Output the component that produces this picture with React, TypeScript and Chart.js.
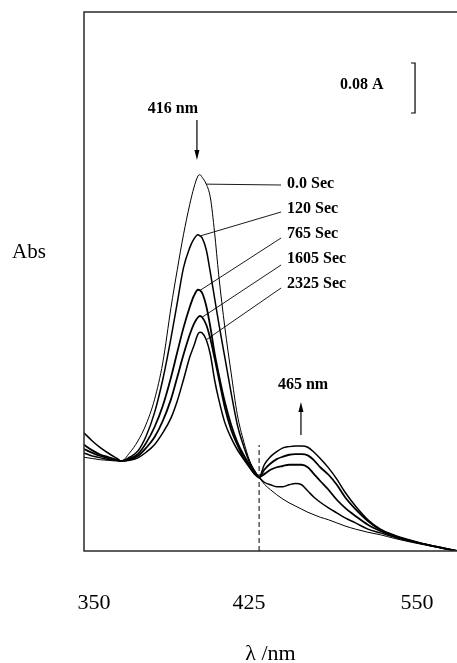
import React, { useEffect, useRef } from "react";
import { Chart, registerables } from "chart.js";

Chart.register(...registerables);

// ---- data (wavelength in nm, absorbance in A) ----
const wavelengths = [360, 364, 368, 372, 376, 378, 382, 386, 390, 394, 398, 402, 405, 408, 411, 413, 415, 416, 417, 419, 421, 423, 425, 428, 431, 434, 437, 440, 442, 444.5, 447, 450, 453, 456, 459, 462, 465, 468, 471, 474, 478, 482, 486, 491, 497, 503, 510, 518, 527, 540];

const abs0s = [0.150, 0.148, 0.146, 0.145, 0.144, 0.144, 0.157, 0.176, 0.203, 0.242, 0.301, 0.390, 0.450, 0.506, 0.554, 0.581, 0.600, 0.602, 0.598, 0.587, 0.565, 0.510, 0.442, 0.357, 0.285, 0.218, 0.176, 0.144, 0.131, 0.118, 0.107, 0.098, 0.090, 0.083, 0.077, 0.072, 0.067, 0.062, 0.058, 0.054, 0.050, 0.045, 0.040, 0.035, 0.030, 0.026, 0.020, 0.014, 0.008, 0.000];
const abs120s = [0.157, 0.152, 0.149, 0.146, 0.145, 0.144, 0.150, 0.160, 0.184, 0.221, 0.274, 0.341, 0.397, 0.453, 0.485, 0.499, 0.506, 0.504, 0.501, 0.482, 0.445, 0.405, 0.365, 0.309, 0.253, 0.202, 0.168, 0.141, 0.129, 0.118, 0.110, 0.106, 0.103, 0.103, 0.106, 0.108, 0.106, 0.096, 0.086, 0.078, 0.069, 0.061, 0.053, 0.045, 0.035, 0.029, 0.022, 0.015, 0.009, 0.000];
const abs765s = [0.163, 0.157, 0.152, 0.148, 0.145, 0.144, 0.148, 0.155, 0.173, 0.198, 0.232, 0.278, 0.318, 0.357, 0.390, 0.408, 0.418, 0.417, 0.413, 0.392, 0.358, 0.317, 0.283, 0.238, 0.202, 0.174, 0.154, 0.137, 0.126, 0.118, 0.123, 0.130, 0.134, 0.136, 0.138, 0.138, 0.138, 0.134, 0.123, 0.112, 0.098, 0.082, 0.069, 0.056, 0.042, 0.032, 0.023, 0.016, 0.009, 0.000];
const abs1605s = [0.170, 0.161, 0.154, 0.150, 0.146, 0.144, 0.146, 0.152, 0.165, 0.182, 0.208, 0.243, 0.278, 0.314, 0.346, 0.363, 0.374, 0.376, 0.374, 0.362, 0.339, 0.309, 0.277, 0.229, 0.194, 0.170, 0.149, 0.134, 0.125, 0.118, 0.130, 0.140, 0.147, 0.151, 0.154, 0.155, 0.155, 0.153, 0.145, 0.134, 0.122, 0.106, 0.086, 0.067, 0.048, 0.034, 0.024, 0.016, 0.009, 0.000];
const abs2325s = [0.189, 0.176, 0.165, 0.156, 0.148, 0.144, 0.145, 0.149, 0.158, 0.170, 0.189, 0.213, 0.240, 0.274, 0.310, 0.328, 0.347, 0.350, 0.349, 0.338, 0.314, 0.274, 0.243, 0.205, 0.181, 0.162, 0.147, 0.133, 0.124, 0.118, 0.138, 0.151, 0.159, 0.165, 0.167, 0.168, 0.168, 0.166, 0.158, 0.148, 0.133, 0.115, 0.094, 0.072, 0.050, 0.035, 0.025, 0.017, 0.009, 0.000];

const seriesLabels = ["0.0 Sec", "120 Sec", "765 Sec", "1605 Sec", "2325 Sec"];
const seriesValues = [abs0s, abs120s, abs765s, abs1605s, abs2325s];

const tickValues = [364.8, 439.6, 520.7];
const tickLabels = ["350", "425", "550"];

// ---- styles / annotation anchors (data units) ----
const SERIF = '"Liberation Serif", "Times New Roman", serif';
const seriesWidths = [1, 1.5, 1.8, 1.8, 1.5];
const X_MIN = 360;
const X_MAX = 540;
const Y_MAX = 0.8624;

const labelNm = 458.0;
const labelBaselineA = [0.5808, 0.5408, 0.5008, 0.4608, 0.4208];
const leaderFromNm = 455.1;
const leaderFromA = [0.5856, 0.5424, 0.5008, 0.4576, 0.4208];
const leaderToNm = [419, 416, 416, 417, 419];

const isosbesticNm = 444.5;
const dashTopA = 0.1696;

const soretArrow = { nm: 414.5, fromA: 0.6896, toA: 0.6256 };
const soretText = { nm: 415.0, a: 0.7016, text: "416 nm" };
const bandArrow = { nm: 464.7, fromA: 0.1856, toA: 0.2384 };
const bandText = { nm: 453.6, a: 0.2587, text: "465 nm" };
const scaleText = { nm: 483.55, a: 0.7392, text: "0.08 A" };
const scaleBar = { nm: 519.75, topA: 0.7808, span: 0.08 };
const absLabel = { nm: 325.3, a: 0.4683, text: "Abs" };

function drawArrow(ctx: CanvasRenderingContext2D, x: number, yFrom: number, yTo: number) {
  const dir = yTo > yFrom ? 1 : -1;
  ctx.beginPath();
  ctx.moveTo(x, yFrom);
  ctx.lineTo(x, yTo - dir * 6);
  ctx.stroke();
  ctx.beginPath();
  ctx.moveTo(x, yTo);
  ctx.lineTo(x - 2.5, yTo - dir * 10);
  ctx.lineTo(x + 2.5, yTo - dir * 10);
  ctx.closePath();
  ctx.fill();
}

const annotationPlugin = {
  id: "spectraAnnotations",
  afterDatasetsDraw(chart: any) {
    const { ctx, chartArea: ca } = chart;
    const xs = chart.scales.x;
    const ys = chart.scales.y;
    const px = (v: number) => xs.getPixelForValue(v);
    const py = (v: number) => ys.getPixelForValue(v);
    ctx.save();

    // frame (top, left, bottom)
    ctx.strokeStyle = "#2a2a2a";
    ctx.lineWidth = 1.5;
    ctx.beginPath();
    ctx.moveTo(ca.right, ca.top);
    ctx.lineTo(ca.left, ca.top);
    ctx.lineTo(ca.left, ca.bottom);
    ctx.lineTo(ca.right, ca.bottom);
    ctx.stroke();

    // dashed isosbestic marker
    ctx.strokeStyle = "#000";
    ctx.lineWidth = 1;
    ctx.setLineDash([5, 3]);
    ctx.beginPath();
    ctx.moveTo(px(isosbesticNm), py(0));
    ctx.lineTo(px(isosbesticNm), py(dashTopA));
    ctx.stroke();
    ctx.setLineDash([]);

    // leader lines
    ctx.lineWidth = 0.9;
    seriesLabels.forEach((_, i) => {
      const j = wavelengths.indexOf(leaderToNm[i]);
      const pt = chart.getDatasetMeta(i).data[j];
      ctx.beginPath();
      ctx.moveTo(px(leaderFromNm), py(leaderFromA[i]));
      ctx.lineTo(pt.x, pt.y);
      ctx.stroke();
    });

    // series labels
    ctx.fillStyle = "#000";
    ctx.font = `700 16px ${SERIF}`;
    ctx.textBaseline = "alphabetic";
    ctx.textAlign = "left";
    seriesLabels.forEach((lab, i) => {
      ctx.fillText(lab, px(labelNm), py(labelBaselineA[i]));
    });

    // peak annotations
    ctx.textAlign = "right";
    ctx.fillText(soretText.text, px(soretText.nm), py(soretText.a));
    ctx.textAlign = "left";
    ctx.fillText(bandText.text, px(bandText.nm), py(bandText.a));
    ctx.fillText(scaleText.text, px(scaleText.nm), py(scaleText.a));

    ctx.lineWidth = 1.2;
    drawArrow(ctx, px(soretArrow.nm), py(soretArrow.fromA), py(soretArrow.toA));
    drawArrow(ctx, px(bandArrow.nm), py(bandArrow.fromA), py(bandArrow.toA));

    // scale bar bracket
    const bx = px(scaleBar.nm);
    const bt = py(scaleBar.topA);
    const bb = py(scaleBar.topA - scaleBar.span);
    ctx.lineWidth = 1.2;
    ctx.beginPath();
    ctx.moveTo(bx - 4, bt);
    ctx.lineTo(bx, bt);
    ctx.lineTo(bx, bb);
    ctx.lineTo(bx - 4, bb);
    ctx.stroke();

    // y label
    ctx.font = `400 21px ${SERIF}`;
    ctx.textAlign = "left";
    ctx.fillText(absLabel.text, px(absLabel.nm), py(absLabel.a));

    ctx.restore();
  },
};

export default function App() {
  const canvasRef = useRef<HTMLCanvasElement | null>(null);

  useEffect(() => {
    const canvas = canvasRef.current;
    if (!canvas) return;
    const chart = new Chart(canvas, {
      type: "line",
      data: {
        datasets: seriesValues.map((vals, i) => ({
          label: seriesLabels[i],
          data: vals.map((v, k) => ({ x: wavelengths[k], y: v })),
          borderColor: "#000",
          borderWidth: seriesWidths[i],
          pointRadius: 0,
          fill: false,
          cubicInterpolationMode: "monotone" as const,
        })),
      },
      options: {
        responsive: false,
        animation: false,
        events: [],
        layout: { padding: { left: 84, top: 12, right: 0, bottom: 0 } },
        plugins: { legend: { display: false }, tooltip: { enabled: false } },
        scales: {
          x: {
            type: "linear",
            min: X_MIN,
            max: X_MAX,
            grid: { display: false, drawTicks: false },
            border: { display: false },
            afterBuildTicks: (s: any) => {
              s.ticks = tickValues.map((v) => ({ value: v }));
            },
            afterFit: (s: any) => {
              s.height = 112;
              s.paddingLeft = 0;
              s.paddingRight = 0;
            },
            ticks: {
              padding: 39,
              autoSkip: false,
              maxRotation: 0,
              color: "#000",
              font: { family: SERIF, size: 22, lineHeight: 1.2 },
              callback: (_v: any, i: number) => tickLabels[i],
            },
            title: {
              display: true,
              text: "λ /nm",
              color: "#000",
              font: { family: SERIF, size: 22, lineHeight: 0.76 },
              padding: 0,
            },
          },
          y: { type: "linear", display: false, min: 0, max: Y_MAX },
        },
      },
      plugins: [annotationPlugin],
    } as any);
    return () => chart.destroy();
  }, []);

  return (
    <div style={{ position: "fixed", left: 0, top: 0, width: 457, height: 663, background: "#fff" }}>
      <canvas ref={canvasRef} width={457} height={663} style={{ display: "block" }} />
    </div>
  );
}
